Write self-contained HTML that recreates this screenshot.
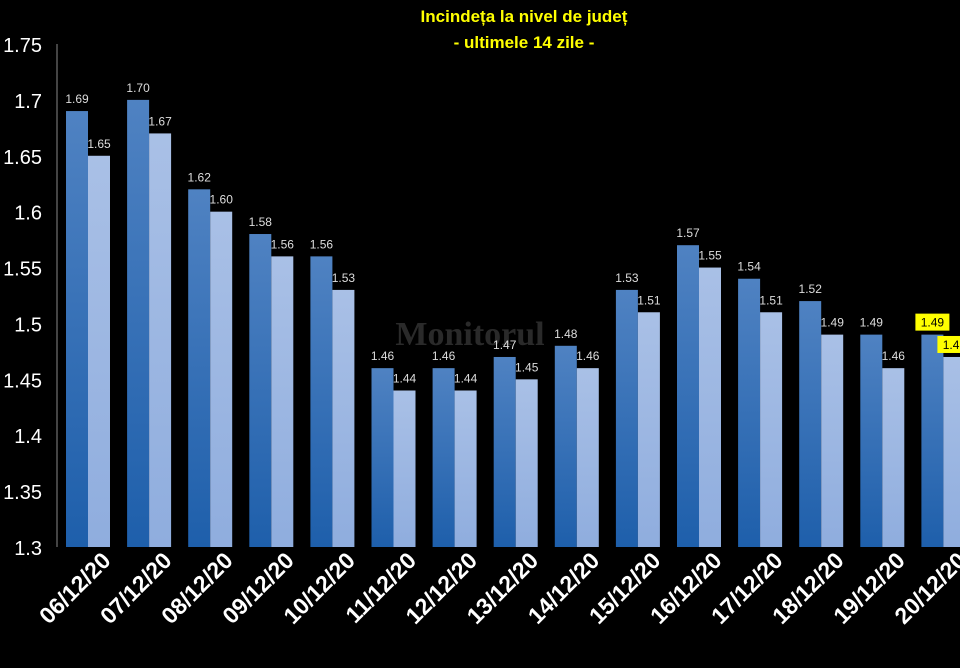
<!DOCTYPE html>
<html><head><meta charset="utf-8"><style>
html,body{margin:0;padding:0;background:#000;}
svg{display:block;font-family:"Liberation Sans",sans-serif;}
</style></head><body>
<svg id="c" width="960" height="668" viewBox="0 0 960 668">
<defs>
<linearGradient id="gd" x1="0" y1="0" x2="0" y2="1"><stop offset="0" stop-color="#4f82c2"/><stop offset="1" stop-color="#1e5fab"/></linearGradient>
<linearGradient id="gl" x1="0" y1="0" x2="0" y2="1"><stop offset="0" stop-color="#a9c0e6"/><stop offset="1" stop-color="#8fadde"/></linearGradient>
</defs>
<text x="524" y="22" text-anchor="middle" fill="#ffff00" font-size="17" font-weight="bold">Incindeța la nivel de județ</text>
<text x="524" y="48" text-anchor="middle" fill="#ffff00" font-size="17" font-weight="bold">- ultimele 14 zile -</text>
<text x="470" y="345" text-anchor="middle" fill="#2a2a2a" font-size="34" font-weight="bold" font-family="Liberation Serif,serif">Monitorul</text>
<line x1="57" y1="44" x2="57" y2="547" stroke="#888" stroke-width="1"/>
<g id="bars"></g>
</svg>
<script>
const categories=["06/12/20","07/12/20","08/12/20","09/12/20","10/12/20","11/12/20","12/12/20","13/12/20","14/12/20","15/12/20","16/12/20","17/12/20","18/12/20","19/12/20","20/12/20"];
const series1=[1.69,1.70,1.62,1.58,1.56,1.46,1.46,1.47,1.48,1.53,1.57,1.54,1.52,1.49,1.49];
const series2=[1.65,1.67,1.60,1.56,1.53,1.44,1.44,1.45,1.46,1.51,1.55,1.51,1.49,1.46,1.47];
const yTicks=["1.3","1.35","1.4","1.45","1.5","1.55","1.6","1.65","1.7","1.75"];
const NS="http://www.w3.org/2000/svg";
const svg=document.getElementById('c'),g=document.getElementById('bars');
const y=v=>547-(v-1.3)/0.45*503;
const x=i=>66+61.1*i;
function mk(t,a,txt){const e=document.createElementNS(NS,t);for(const k in a)e.setAttribute(k,a[k]);if(txt!==undefined)e.textContent=txt;return e;}
yTicks.forEach(t=>{
 const e=mk('text',{x:42,y:y(+t)+8,'text-anchor':'end',fill:'#fff','font-size':20},t);
 
 
 svg.appendChild(e);
});
categories.forEach((c,i)=>{
 const last=i===categories.length-1;
 [[series1,'url(#gd)',0],[series2,'url(#gl)',22]].forEach(([s,f,off],k)=>{
  const r=mk('rect',{x:x(i)+off,y:y(s[i]),width:22,height:547-y(s[i]),fill:f});
  
  
  g.appendChild(r);
  const lx=x(i)+off+11,ly=y(s[i])-8;
  if(last){
   const b=mk('rect',{x:lx-17,y:ly-13,width:34,height:17,fill:'#ffff00'});
   
   
   g.appendChild(b);
  }
  const t=mk('text',{x:lx,y:ly,'text-anchor':'middle',fill:last?'#000':'#ddd','font-size':12},s[i].toFixed(2));
  
  
  g.appendChild(t);
 });
 const cx=x(i)+46,cy=562;
 const t=mk('text',{x:cx,y:cy,'text-anchor':'end',fill:'#fff','font-size':23,'font-weight':'600',transform:`rotate(-45 ${cx} ${cy})`},c);
 
 
 svg.appendChild(t);
});
</script>
</body></html>
